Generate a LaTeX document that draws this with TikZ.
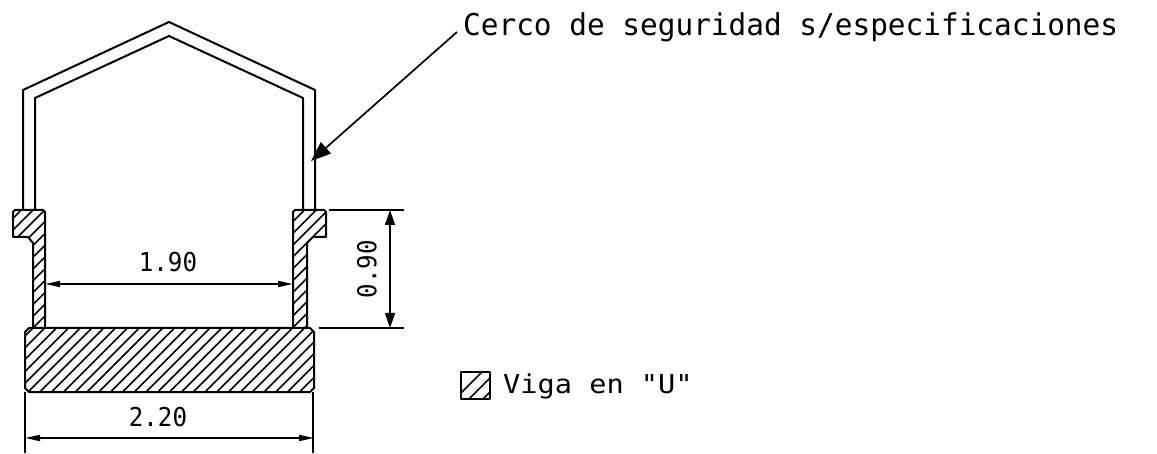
\documentclass[tikz,border=0pt]{standalone}
\usepackage{fontspec}
\usetikzlibrary{arrows.meta}
\newfontfamily\cadA[FakeStretch=0.98]{DejaVu Sans Mono}
\newfontfamily\cadB[FakeStretch=0.93]{DejaVu Sans Mono}
\newfontfamily\cadC[FakeStretch=1.1]{DejaVu Sans Mono}
\tikzset{
  outline/.style={draw=black,line width=2pt,line join=round},
  hatchline/.style={draw=black,line width=1.6pt},
  dimline/.style={draw=black,line width=1.7pt},
  dimarrow/.style={dimline,{Triangle[length=15pt,width=6pt]}-{Triangle[length=15pt,width=6pt]}},
  dimarrowv/.style={dimline,{Triangle[length=15pt,width=10pt]}-{Triangle[length=15pt,width=10pt]}},
  leader/.style={dimline,-{Triangle[length=20pt,width=15pt]}},
  labeltext/.style={inner sep=0pt,font=\cadA\fontsize{30}{30}\selectfont},
  legendtext/.style={inner sep=0pt,font=\cadC\fontsize{26}{26}\selectfont},
  dimtext/.style={inner sep=0pt,font=\cadB\fontsize{26}{26}\selectfont},
}
\begin{document}
\begin{tikzpicture}[x=1pt,y=-1pt]
\useasboundingbox[fill=white] (0,0) rectangle (1157,454);
% fence
\draw[outline] (23,210) -- (23,90) -- (169,22) -- (315,90) -- (315,210);
\draw[outline] (35,210) -- (35,98) -- (169,36) -- (303,98) -- (303,210);
% hatching
\begin{scope}
\clip (15,210) -- (43,210) -- (45,212) -- (45,328) -- (33,328) -- (33,243) -- (28,237) -- (13,237) -- (13,212) -- cycle
      (295,210) -- (324,210) -- (326,212) -- (326,237) -- (313,237) -- (307,243) -- (307,328) -- (293,328) -- (293,212) -- cycle
      (29,328) -- (310,328) -- (314,332) -- (314,388) -- (310,392) -- (29,392) -- (25,388) -- (25,332) -- cycle;
\foreach \k in {-20,...,50}{
  \draw[hatchline] (\k*11.8,420) -- ++(230,-230);
}
\end{scope}
% left post
\draw[outline] (33,328) -- (33,243) -- (28,237) -- (13,237) -- (13,212) -- (15,210) -- (43,210) -- (45,212) -- (45,328);
% right post
\draw[outline] (293,328) -- (293,212) -- (295,210) -- (324,210) -- (326,212) -- (326,237) -- (313,237) -- (307,243) -- (307,328);
% beam
\draw[outline] (29,328) -- (310,328) -- (314,332) -- (314,388) -- (310,392) -- (29,392) -- (25,388) -- (25,332) -- cycle;
% dimension coordinates
\coordinate (wl) at (45,284); \coordinate (wr) at (293,284);
\coordinate (bl) at (25,438); \coordinate (br) at (314,438);
\coordinate (ht) at (390,210); \coordinate (hb) at (390,328);
\coordinate (tip) at (311,161); \coordinate (lead) at (457,32);
\draw[dimarrow] (wl) -- (wr);
\draw[dimarrow] (bl) -- (br);
\draw[dimarrowv] (ht) -- (hb);
\draw[dimline] (25,392) -- (25,453);
\draw[dimline] (313,392) -- (313,453);
\draw[dimline] (329,210) -- (404,210);
\draw[dimline] (319,328) -- (404,328);
\draw[leader] (lead) -- (tip);
\node[dimtext] (d1) at (168,262) {1.90};
\node[dimtext] (d2) at (158,417) {2.20};
\node[dimtext,rotate=90] (d3) at (367,269) {0.90};
\node[labeltext,anchor=base west] (t1) at (463,36) {Cerco de seguridad s/especificaciones};
% legend
\begin{scope}
\clip (461,372) rectangle (490,399);
\foreach \k in {0,...,3}{\draw[hatchline] (461+\k*14-6,399) -- ++(27,-27);}
\end{scope}
\draw[outline] (461,372) rectangle (490,399);
\node[legendtext,anchor=base west] (t2) at (503,393) {Viga en "U"};
\end{tikzpicture}
\end{document}
